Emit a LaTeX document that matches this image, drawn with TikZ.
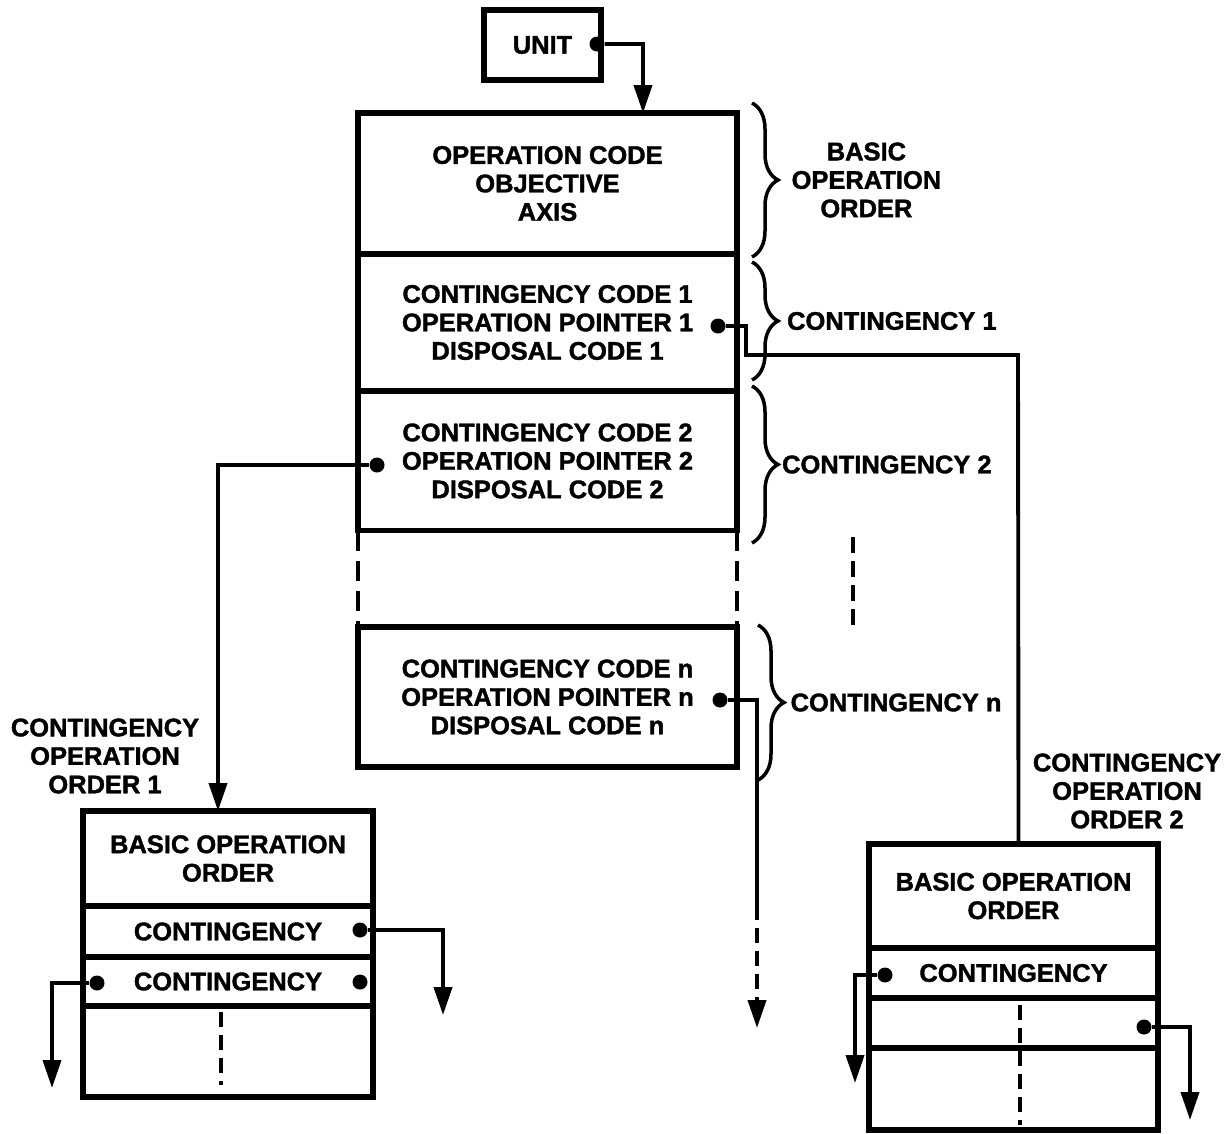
\documentclass[tikz,border=0pt]{standalone}
\usepackage{fontspec}
\setmainfont{Liberation Sans}[BoldFeatures={FakeBold=1.5}]
\usetikzlibrary{shapes,arrows.meta}
\usetikzlibrary{positioning}
\usetikzlibrary{decorations.pathreplacing}
\newcommand{\boxfont}{\bfseries\fontsize{14.5}{16.2}\selectfont}
\tikzstyle{cell} = [draw, rectangle, line width=2.9pt, outer sep=0pt,
inner sep=0pt, align=center, font=\boxfont]
\tikzstyle{line} = [draw, line width=2.2pt, -{Triangle[length=0.56cm,width=0.36cm]}]
\tikzstyle{wire} = [draw, line width=2.2pt]
\tikzstyle{dot} = [circle, fill, inner sep=0pt, minimum size=0.3cm]
\tikzstyle{gap} = [draw, line width=2.6pt, dash pattern=on 0.4cm off 0.2cm]
\tikzstyle{brace} = [draw, line width=2pt, decorate, decoration={brace, amplitude=0.52cm}]
\tikzstyle{tag} = [align=center, font=\boxfont]

\begin{document}
\begin{tikzpicture}[x=0.02cm, y=-0.02cm, node distance=0pt]
	\useasboundingbox (0,0) rectangle (1229,1133);
	%% Main order
	\node [cell, minimum width=2.34cm, minimum height=1.4cm] (unit) at (542.5,45) {UNIT};
	\node [cell, minimum width=7.58cm, minimum height=2.82cm] (op) at (547.5,183.5) {OPERATION CODE\\OBJECTIVE\\AXIS};
	\node [cell, minimum width=7.58cm, minimum height=2.74cm, below=of op] (c1) {CONTINGENCY CODE 1\\OPERATION POINTER 1\\DISPOSAL CODE 1};
	\node [cell, minimum width=7.58cm, minimum height=2.8cm, below=of c1] (c2) {CONTINGENCY CODE 2\\OPERATION POINTER 2\\DISPOSAL CODE 2};
	\node [cell, minimum width=7.58cm, minimum height=2.8cm] (cn) at (547.5,697) {CONTINGENCY CODE n\\OPERATION POINTER n\\DISPOSAL CODE n};
	\path [gap] (c2.south west) -- (cn.north west);
	\path [gap] (c2.south east) -- (cn.north east);
	%% Braces
	\path [brace] (752,103) -- node [tag, midway, right=0.64cm] (lbasic) {BASIC\\OPERATION\\ORDER} (752,257);
	\path [brace] (752,262) -- node [tag, midway, right=0.55cm] (lc1) {CONTINGENCY 1} (752,380);
	\path [brace] (752,386) -- node [tag, midway, right=0.45cm] (lc2) {CONTINGENCY 2} (752,543);
	\path [brace] (758,625) -- node [tag, midway, right=0.5cm] (lcn) {CONTINGENCY n} (758,780);
	\coordinate (v1) at (853,537);
	\coordinate (v2) at (853,625);
	\path [draw, line width=2.6pt, dash pattern=on 0.32cm off 0.16cm] (v1) -- (v2);
	%% Contingency operation orders
	\node [cell, minimum width=5.8cm, minimum height=1.9cm] (b1) at (228,858.5) {BASIC OPERATION\\ORDER};
	\node [cell, minimum width=5.8cm, minimum height=1.02cm, below=of b1] (b1r1) {CONTINGENCY};
	\node [cell, minimum width=5.8cm, minimum height=0.98cm, below=of b1r1] (b1r2) {CONTINGENCY};
	\node [cell, minimum width=5.8cm, minimum height=1.82cm, below=of b1r2] (b1r3) {};
	\node [tag] (lco1) at (105,756) {CONTINGENCY\\OPERATION\\ORDER 1};
	\node [cell, minimum width=5.78cm, minimum height=2.08cm] (b2) at (1013.5,896) {BASIC OPERATION\\ORDER};
	\node [cell, minimum width=5.78cm, minimum height=1.0cm, below=of b2] (b2r1) {CONTINGENCY};
	\node [cell, minimum width=5.78cm, minimum height=1.0cm, below=of b2r1] (b2r2) {};
	\node [cell, minimum width=5.78cm, minimum height=1.64cm, below=of b2r2] (b2r3) {};
	\node [tag] (lco2) at (1127,791) {CONTINGENCY\\OPERATION\\ORDER 2};
	\path [gap, dash pattern=on 0.3cm off 0.16cm] ([xshift=-0.14cm, yshift=-0.12cm]b1r3.north) -- ([xshift=-0.14cm, yshift=0.24cm]b1r3.south);
	\path [gap, dash pattern=on 0.3cm off 0.16cm] ([xshift=0.13cm, yshift=-0.14cm]b2r2.north) -- ([xshift=0.13cm, yshift=0.1cm]b2r3.south);
	%% Pointer dots
	\node [dot] (udot) at (597,44) {};
	\node [dot] (p1) at (718,326) {};
	\node [dot] (p2) at (377,465) {};
	\node [dot] (pn) at (720,700) {};
	\node [dot] (q1) at (360,930) {};
	\node [dot] (q2) at (97,983) {};
	\node [dot] (q3) at (360,982) {};
	\node [dot] (q4) at (885,975) {};
	\node [dot] (q5) at (1144,1027) {};
	\coordinate (k1) at (1018,355);
	\coordinate (kn) at (757,905);
	\coordinate (en) at (757,1028);
	\coordinate (e1) at (443,1015);
	\coordinate (e2) at (52,1088);
	\coordinate (e3) at (855,1083);
	\coordinate (e4) at (1190,1120);
	%% Flows
	\path [line] (udot) -| ([xshift=1.91cm]op.north);
	\path [wire] (p1) -- ++(0.56cm,0) |- (k1) -- ([xshift=0.1cm]b2.north);
	\path [line] (p2) -| ([xshift=-0.2cm]b1.north);
	\path [wire] (pn) -| (kn);
	\path [line, dash pattern=on 0.3cm off 0.16cm] (kn) -- (en);
	\path [line] (q1) -| (e1);
	\path [line] (q2) -| (e2);
	\path [line] (q4) -| (e3);
	\path [line] (q5) -| (e4);
\end{tikzpicture}
\end{document}
